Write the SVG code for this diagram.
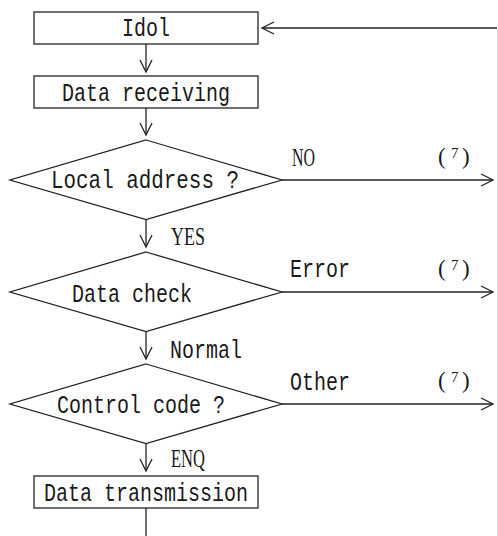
<svg xmlns="http://www.w3.org/2000/svg" width="498" height="536" viewBox="0 0 498 536">
  <style>
    .shape { fill: #ffffff; stroke: #222222; stroke-width: 1.3; }
    .wire { fill: none; stroke: #222222; stroke-width: 1.3; }
    .mono { font-family: "Liberation Mono", "DejaVu Sans Mono", monospace; font-size: 26px; fill: #1a1a1a; }
    .cap { font-family: "Liberation Serif", "DejaVu Serif", serif; font-size: 25px; fill: #1a1a1a; }
    .ref { font-family: "Liberation Serif", "DejaVu Serif", serif; font-size: 23px; fill: #1a1a1a; }
    .sup { font-family: "Liberation Serif", "DejaVu Serif", serif; font-size: 15px; fill: #1a1a1a; }
  </style>
  <defs>
    <marker id="arrow" markerUnits="userSpaceOnUse" viewBox="-14 -8 16 16" refX="0" refY="0" markerWidth="16" markerHeight="16" orient="auto">
      <path d="M-12,-6 L0,0 L-12,6" fill="none" stroke="#222222" stroke-width="1.3"/>
    </marker>
  </defs>

  <rect width="498" height="536" fill="#ffffff"/>

  <!-- connectors -->
  <g id="connectors">
    <!-- return path along the right edge into Idol -->
    <line x1="497.5" y1="29" x2="497.5" y2="536" stroke="#d9d9d9" stroke-width="1"/>
    <line class="wire" x1="497" y1="28" x2="262" y2="28" marker-end="url(#arrow)"/>
    <line class="wire" x1="146" y1="44" x2="146" y2="72" marker-end="url(#arrow)"/>
    <line class="wire" x1="146" y1="108" x2="146" y2="135" marker-end="url(#arrow)"/>
    <line class="wire" x1="146" y1="219.5" x2="146" y2="247" marker-end="url(#arrow)"/>
    <line class="wire" x1="146" y1="331.5" x2="146" y2="359" marker-end="url(#arrow)"/>
    <line class="wire" x1="146" y1="443.5" x2="146" y2="471" marker-end="url(#arrow)"/>
    <line class="wire" x1="146" y1="508" x2="146" y2="536"/>
    <line class="wire" x1="282" y1="180" x2="493" y2="180" marker-end="url(#arrow)"/>
    <line class="wire" x1="282" y1="292" x2="493" y2="292" marker-end="url(#arrow)"/>
    <line class="wire" x1="282" y1="404" x2="493" y2="404" marker-end="url(#arrow)"/>

    <!-- branch labels -->
    <text class="cap" x="292" y="166" textLength="23" lengthAdjust="spacingAndGlyphs">NO</text>
    <text class="ref" x="438" y="164">(</text>
    <text class="sup" x="451" y="158">7</text>
    <text class="ref" x="462" y="164">)</text>

    <text class="cap" x="171" y="245" textLength="34" lengthAdjust="spacingAndGlyphs">YES</text>

    <text class="mono" x="290" y="277" textLength="60" lengthAdjust="spacingAndGlyphs">Error</text>
    <text class="ref" x="438" y="276">(</text>
    <text class="sup" x="451" y="270">7</text>
    <text class="ref" x="462" y="276">)</text>

    <text class="mono" x="170" y="358" textLength="72" lengthAdjust="spacingAndGlyphs">Normal</text>

    <text class="mono" x="290" y="390" textLength="60" lengthAdjust="spacingAndGlyphs">Other</text>
    <text class="ref" x="438" y="388">(</text>
    <text class="sup" x="451" y="382">7</text>
    <text class="ref" x="462" y="388">)</text>

    <text class="cap" x="171" y="467" textLength="34" lengthAdjust="spacingAndGlyphs">ENQ</text>
  </g>

  <!-- nodes -->
  <g id="idol">
    <rect class="shape" x="34" y="12" width="224" height="32"/>
    <text class="mono" x="122" y="36" textLength="48" lengthAdjust="spacingAndGlyphs">Idol</text>
  </g>

  <g id="data-receiving">
    <rect class="shape" x="34" y="76" width="224" height="32"/>
    <text class="mono" x="62" y="100.5" textLength="168" lengthAdjust="spacingAndGlyphs">Data receiving</text>
  </g>

  <g id="local-address">
    <polygon class="shape" points="146,140 282,180 146,219.5 10,180"/>
    <text class="mono" x="51" y="187.5" textLength="188" lengthAdjust="spacingAndGlyphs">Local address ?</text>
  </g>

  <g id="data-check">
    <polygon class="shape" points="146,252 282,292 146,331.5 10,292"/>
    <text class="mono" x="72" y="302" textLength="120" lengthAdjust="spacingAndGlyphs">Data check</text>
  </g>

  <g id="control-code">
    <polygon class="shape" points="146,364 282,404 146,443.5 10,404"/>
    <text class="mono" x="57" y="413" textLength="168" lengthAdjust="spacingAndGlyphs">Control code ?</text>
  </g>

  <g id="data-transmission">
    <rect class="shape" x="34" y="476" width="224" height="32"/>
    <text class="mono" x="44" y="501" textLength="204" lengthAdjust="spacingAndGlyphs">Data transmission</text>
  </g>
</svg>
